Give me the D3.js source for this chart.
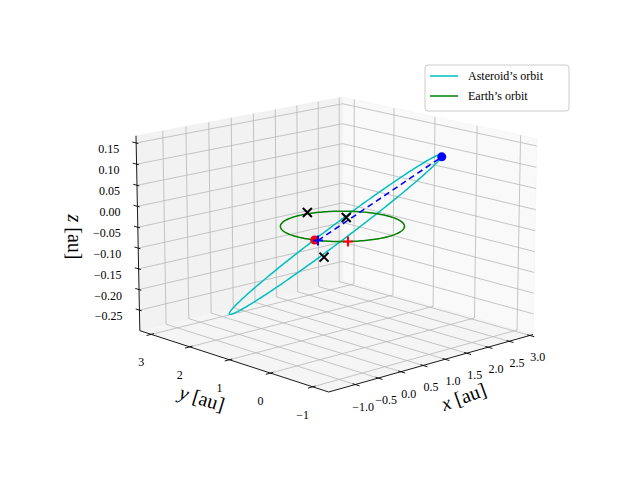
<!DOCTYPE html>
<html><head><meta charset="utf-8">
<script src="https://cdn.jsdelivr.net/npm/d3@7"></script>
<style>body{margin:0;background:#fff}text{font-family:"Liberation Serif","DejaVu Serif",serif}</style>
</head><body><svg id="c" width="640" height="480"></svg>
<script>
// ---- data ----
const xTicks = [-1.0,-0.5,0.0,0.5,1.0,1.5,2.0,2.5,3.0];
const yTicks = [-1,0,1,2,3];
const zTicks = [-0.25,-0.20,-0.15,-0.10,-0.05,0.00,0.05,0.10,0.15];
const xLim = [-1.57, 3.08], yLim = [-1.37, 3.3], zLim = [-0.30, 0.167];
const earthRadius = 1.0;
// asteroid orbit: center, semi-axis vectors (au)
const astCenter = [-0.15, 0.0, -0.015];
const astU = [1.72, 0.07, 0.104];
const astV = [-0.22, 1.55, -0.148];
const earthPosAngle = 201;   // deg on Earth's orbit
const earthPlusAngle = 232;
const astPlus = [-0.92,-0.42,0.0];
const astNowAngle = -55;      // deg on asteroid orbit parameter
const crosses = [[0.2,1.06,0.0],[0.43,0.37,0.0],[-1.14,-0.8,-0.022]];
const legendItems = [["Asteroid\u2019s orbit","#00bfbf"],["Earth\u2019s orbit","#008000"]];

// ---- projection ----
const elev = 15*Math.PI/180, azim = -133*Math.PI/180, R = 8;
const nx = d3.scaleLinear().domain(xLim).range([-0.5,0.5]);
const ny = d3.scaleLinear().domain(yLim).range([-0.5,0.5]);
const nz = d3.scaleLinear().domain(zLim).range([-0.375,0.375]);
const u = [Math.cos(elev)*Math.cos(azim), Math.cos(elev)*Math.sin(azim), Math.sin(elev)];
const r = [-Math.sin(azim), Math.cos(azim), 0];
const up = [u[1]*r[2]-u[2]*r[1], u[2]*r[0]-u[0]*r[2], u[0]*r[1]-u[1]*r[0]];
const dot=(a,b)=>a[0]*b[0]+a[1]*b[1]+a[2]*b[2];
function proj0(p){const q=[nx(p[0]),ny(p[1]),nz(p[2])];const s=1/(R-dot(q,u)*R*0.1);return [dot(q,r)*s, dot(q,up)*s];}
const corners=[];for(const a of xLim)for(const b of yLim)for(const c of zLim)corners.push(proj0([a,b,c]));
const sx=d3.scaleLinear().domain(d3.extent(corners,d=>d[0])).range([136,537]);
const sy=d3.scaleLinear().domain(d3.extent(corners,d=>d[1])).range([392,97]);
function P(p){const a=proj0(p);return [sx(a[0]),sy(a[1])];}

const svg=d3.select("#c");
const line=d3.line();
const [x0,x1]=xLim,[y0,y1]=yLim,[z0,z1]=zLim;
const panes=[
 {pts:[[x0,y1,z0],[x1,y1,z0],[x1,y1,z1],[x0,y1,z1]],fill:"#f2f2f2"},
 {pts:[[x1,y0,z0],[x1,y1,z0],[x1,y1,z1],[x1,y0,z1]],fill:"#f9f9f9"},
 {pts:[[x0,y0,z0],[x1,y0,z0],[x1,y1,z0],[x0,y1,z0]],fill:"#f5f5f5"}];
svg.selectAll(".pane").data(panes).join("path").attr("d",d=>line(d.pts.map(P))+"Z").attr("fill",d=>d.fill).attr("stroke","#f0f0f0").attr("stroke-width",0.5);
const g=svg.append("g").attr("stroke","#b8b8b8").attr("stroke-width",0.8).attr("fill","none");
const seg=(a,b)=>g.append("path").attr("d",line([P(a),P(b)]));
xTicks.forEach(x=>{seg([x,y0,z0],[x,y1,z0]);seg([x,y1,z0],[x,y1,z1]);});
yTicks.forEach(y=>{seg([x0,y,z0],[x1,y,z0]);seg([x1,y,z0],[x1,y,z1]);});
zTicks.forEach(z=>{seg([x0,y1,z],[x1,y1,z]);seg([x1,y0,z],[x1,y1,z]);});
const ax=svg.append("g").attr("stroke","#000").attr("stroke-width",0.9).attr("fill","none");
const aseg=(a,b)=>ax.append("path").attr("d",line([P(a),P(b)]));
aseg([x0,y0,z0],[x1,y0,z0]);aseg([x0,y0,z0],[x0,y1,z0]);aseg([x0,y1,z0],[x0,y1,z1]);
const tl=svg.append("g").attr("font-size",12);
const fmt=(v,d)=>(v<0?"\u2212":"")+Math.abs(v).toFixed(d);
xTicks.forEach(x=>{const a=P([x,y0,z0]),b=P([x,y0-0.1,z0]);ax.append("path").attr("d",line([[a[0]-(b[0]-a[0])*0.6,a[1]-(b[1]-a[1])*0.6],b]));
 tl.append("text").attr("x",a[0]+8).attr("y",a[1]+26).attr("text-anchor","middle").text(fmt(x,1));});
yTicks.forEach(y=>{const a=P([x0,y,z0]),b=P([x0-0.1,y,z0]);ax.append("path").attr("d",line([[a[0]-(b[0]-a[0])*0.6,a[1]-(b[1]-a[1])*0.6],b]));
 tl.append("text").attr("x",a[0]-10).attr("y",a[1]+32).attr("text-anchor","middle").text(fmt(y,0));});
zTicks.forEach(z=>{const a=P([x0,y1,z]),b=P([x0,y1+0.1,z]);ax.append("path").attr("d",line([[a[0]-(b[0]-a[0])*0.6,a[1]-(b[1]-a[1])*0.6],b]));
 tl.append("text").attr("x",a[0]-17).attr("y",a[1]+10).attr("text-anchor","end").text(fmt(z,2));});
svg.append("text").attr("transform","translate(466,403) rotate(-20)").attr("text-anchor","middle").attr("font-size",20).html('<tspan font-style="italic">x</tspan> [au]');
svg.append("text").attr("transform","translate(200,405) rotate(17)").attr("text-anchor","middle").attr("font-size",20).html('<tspan font-style="italic">y</tspan> [au]');
svg.append("text").attr("transform","translate(68,237) rotate(90)").attr("text-anchor","middle").attr("font-size",20).html('<tspan font-style="italic">z</tspan> [au]');
const T=d3.range(0,361,2).map(d=>d*Math.PI/180);
const earthAt=t=>[earthRadius*Math.cos(t),earthRadius*Math.sin(t),0];
const astAt=t=>[0,1,2].map(i=>astCenter[i]+Math.cos(t)*astU[i]+Math.sin(t)*astV[i]);
svg.append("path").attr("d",line(T.map(t=>P(astAt(t))))).attr("fill","none").attr("stroke","#00bfbf").attr("stroke-width",1.5);
svg.append("path").attr("d",line(T.map(t=>P(earthAt(t))))).attr("fill","none").attr("stroke","#008000").attr("stroke-width",1.5);
const m=svg.append("g");
const rad=Math.PI/180;
const e=P(earthAt(earthPosAngle*rad));m.append("circle").attr("cx",e[0]).attr("cy",e[1]).attr("r",4.5).attr("fill","red");
const a1=P(astPlus),a2=P(astAt(astNowAngle*rad));
m.append("path").attr("d",line([a1,a2])).attr("stroke","blue").attr("stroke-width",1.6).attr("stroke-dasharray","6,4");
m.append("circle").attr("cx",a2[0]).attr("cy",a2[1]).attr("r",4.5).attr("fill","blue");
const plus=(p,c)=>m.append("path").attr("d",`M${p[0]-5},${p[1]}h10M${p[0]},${p[1]-5}v10`).attr("stroke",c).attr("stroke-width",2);
plus(a1,"blue");plus(P(earthAt(earthPlusAngle*rad)),"red");
crosses.forEach(c=>{const p=P(c);m.append("path").attr("d",`M${p[0]-4.5},${p[1]-4.5}l9,9M${p[0]+4.5},${p[1]-4.5}l-9,9`).attr("stroke","#000").attr("stroke-width",2);});
const lg=svg.append("g").attr("transform","translate(425,65)");
lg.append("rect").attr("width",144).attr("height",46).attr("rx",3).attr("fill","#fff").attr("fill-opacity",0.8).attr("stroke","#ccc");
legendItems.forEach((d,i)=>{lg.append("line").attr("x1",5).attr("x2",33).attr("y1",11+i*20).attr("y2",11+i*20).attr("stroke",d[1]).attr("stroke-width",1.5);
 lg.append("text").attr("x",43).attr("y",15+i*20).attr("font-size",12).text(d[0]);});
</script></body></html>
